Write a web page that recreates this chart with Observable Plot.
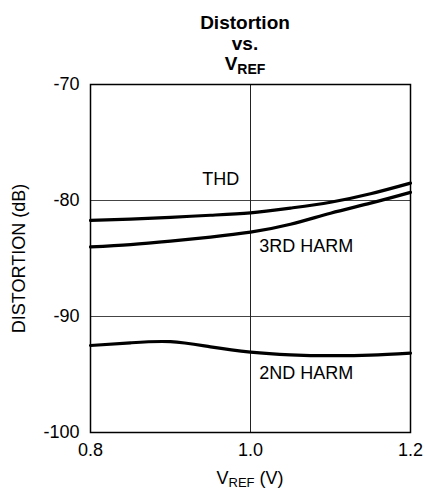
<!DOCTYPE html>
<html>
<head>
<meta charset="utf-8">
<script src="https://cdn.jsdelivr.net/npm/d3@7"></script>
<script src="https://cdn.jsdelivr.net/npm/@observablehq/plot@0.6"></script>
<style>
  html, body { margin: 0; padding: 0; background: #fff; }
  #wrap { position: relative; width: 425px; height: 490px; overflow: hidden; font-family: "Liberation Sans", Arial, sans-serif; color: #000; }
  .tl { position: absolute; z-index: 2; left: 65px; width: 360px; text-align: center; font-weight: bold; font-size: 19px; line-height: 19px; height: 19px; white-space: nowrap; }
  .tl .sub { font-size: 14px; position: relative; top: 4px; }
  #chart { position: absolute; z-index: 1; left: 0; top: 72px; }
  #xlab { position: absolute; z-index: 2; left: 0; top: 469px; width: 500px; text-align: center; font-size: 18px; line-height: 18px; white-space: nowrap; }
  #xlab .sub { font-size: 13px; position: relative; top: 3px; }
</style>
</head>
<body>
<div id="wrap">
  <div class="tl" style="top:13px">Distortion</div>
  <div class="tl" style="top:34px">vs.</div>
  <div class="tl" style="top:54px">V<span class="sub">REF</span></div>
  <div id="chart"></div>
  <div id="xlab">V<span class="sub">REF</span> (V)</div>
</div>
<script>
// ---- data ----
const vref  = [0.80, 0.85, 0.90, 0.95, 1.00, 1.05, 1.10, 1.15, 1.20];
const thd   = [-81.72, -81.60, -81.45, -81.27, -81.06, -80.65, -80.15, -79.42, -78.50];
const harm3 = [-84.00, -83.80, -83.50, -83.15, -82.73, -82.05, -81.10, -80.23, -79.30];
const harm2 = [-92.50, -92.27, -92.17, -92.62, -93.07, -93.30, -93.38, -93.33, -93.15];
const seriesNames = ["THD", "3RD HARM", "2ND HARM"];
const seriesValues = [thd, harm3, harm2];

const xTicks = [0.8, 1.0, 1.2];
const yTicks = [-100, -90, -80, -70];
const xGrid = [1.0];
const yGrid = [-90, -80];

const labelText = ["THD", "3RD HARM", "2ND HARM"];
const labelX = [0.9396, 1.011, 1.011];
const labelY = [-78.17, -83.97, -94.91];

// ---- build tables ----
const table = [];
seriesNames.forEach((s, i) => {
  vref.forEach((v, j) => table.push({series: s, v, d: seriesValues[i][j]}));
});
const labels = labelText.map((t, i) => ({t, x: labelX[i], y: labelY[i]}));

const chart = Plot.plot({
  width: 425,
  height: 390,
  marginLeft: 90,
  marginRight: 15,
  marginTop: 12,
  marginBottom: 30,
  style: {fontFamily: "'Liberation Sans', Arial, sans-serif", fontSize: "18px", color: "#000", background: "transparent", overflow: "visible"},
  x: {domain: [0.8, 1.2]},
  y: {domain: [-100, -70]},
  marks: [
    Plot.ruleY(yGrid, {stroke: "#444", strokeWidth: 1}),
    Plot.ruleX(xGrid, {stroke: "#222", strokeWidth: 1}),
    Plot.frame({stroke: "#000", strokeWidth: 1.5}),
    Plot.axisX(xTicks, {tickSize: 0, tickPadding: 11, tickFormat: d => d.toFixed(1), label: null, fontSize: 18}),
    Plot.axisY(yTicks, {tickSize: 0, tickPadding: 11, tickFormat: d => String(d), label: "DISTORTION (dB)", labelAnchor: "center", labelOffset: 78, labelArrow: "none", fontSize: 18}),
    Plot.line(table, {x: "v", y: "d", z: "series", curve: "natural", stroke: "#000", strokeWidth: 3.2}),
    Plot.text(labels, {x: "x", y: "y", text: "t", textAnchor: "start", fontSize: 18, fill: "#000"})
  ]
});
document.getElementById("chart").appendChild(chart);
</script>
</body>
</html>
